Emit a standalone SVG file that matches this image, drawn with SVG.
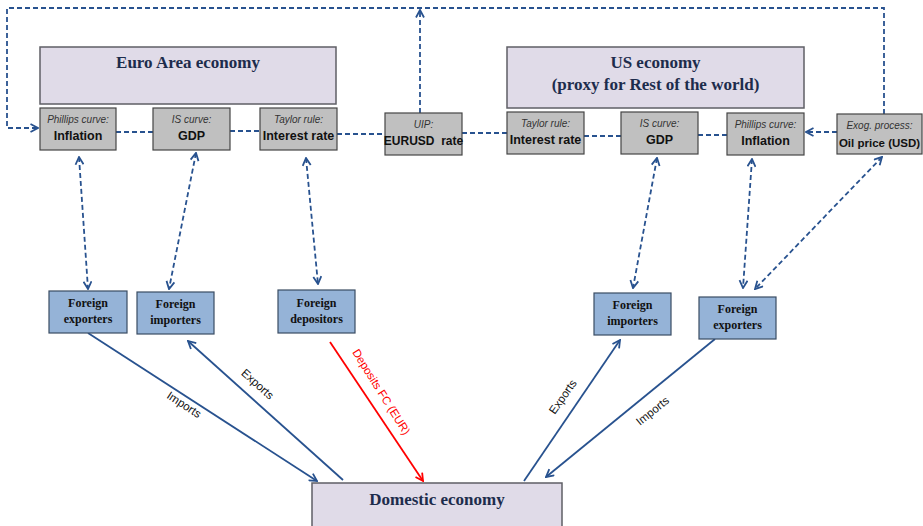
<svg xmlns="http://www.w3.org/2000/svg" width="923" height="526" viewBox="0 0 923 526">
<defs>
<marker id="ah" viewBox="0 0 10 10" refX="9" refY="5" markerWidth="10" markerHeight="10" markerUnits="userSpaceOnUse" orient="auto-start-reverse">
<path d="M1.5,1 L9,5 L1.5,9" fill="none" stroke="#28528f" stroke-width="1.8"/>
</marker>
<marker id="ahr" viewBox="0 0 10 10" refX="9" refY="5" markerWidth="10" markerHeight="10" markerUnits="userSpaceOnUse" orient="auto">
<path d="M1.5,1 L9,5 L1.5,9" fill="none" stroke="#ff0000" stroke-width="1.8"/>
</marker>
</defs>
<style>
.title{fill:#e0dbe8;stroke:#5f5f66;stroke-width:1.5}
.gray{fill:#c0c0c0;stroke:#454545;stroke-width:1.2}
.blue{fill:#95b3d7;stroke:#3a4c63;stroke-width:1.2}
.tt{font-family:"Liberation Serif","Times New Roman",serif;font-weight:bold;font-size:17px;fill:#1d2c4c;text-anchor:middle}
.it{font-family:"Liberation Sans",Arial,sans-serif;font-style:italic;font-size:10px;fill:#333;text-anchor:middle}
.bd{font-family:"Liberation Sans",Arial,sans-serif;font-weight:bold;font-size:12.5px;fill:#111;text-anchor:middle}
.fb{font-family:"Liberation Serif","Times New Roman",serif;font-weight:bold;font-size:12px;fill:#111;text-anchor:middle}
.lb{font-family:"Liberation Sans",Arial,sans-serif;font-size:11.5px;fill:#111;text-anchor:middle}
.dash{fill:none;stroke:#28528f;stroke-width:1.8;stroke-dasharray:5,3}
.solid{fill:none;stroke:#28528f;stroke-width:1.8}
</style>
<rect width="923" height="526" fill="#ffffff"/>

<g id="connectors">
<path class="dash" d="M884,114 V8 H7 V128 H38" marker-end="url(#ah)"/>
<path class="dash" d="M420,113 V10" marker-end="url(#ah)"/>
<path class="dash" d="M116,132 H153"/>
<path class="dash" d="M230,131 H260"/>
<path class="dash" d="M337,134 H385"/>
<path class="dash" d="M462,133 H507"/>
<path class="dash" d="M584,136 H621"/>
<path class="dash" d="M698,135 H727"/>
<path class="dash" d="M837,132 H806" marker-end="url(#ah)"/>
<path class="dash" d="M79,157 L88,289" marker-start="url(#ah)" marker-end="url(#ah)"/>
<path class="dash" d="M196,153 L169,289" marker-start="url(#ah)" marker-end="url(#ah)"/>
<path class="dash" d="M306,158 L318,284" marker-start="url(#ah)" marker-end="url(#ah)"/>
<path class="dash" d="M657,158 L633,288" marker-start="url(#ah)" marker-end="url(#ah)"/>
<path class="dash" d="M752,159 L743,288" marker-start="url(#ah)" marker-end="url(#ah)"/>
<path class="dash" d="M882,157 L755,289" marker-start="url(#ah)" marker-end="url(#ah)"/>
<path class="solid" d="M88,333 L317,481" marker-end="url(#ah)"/>
<path class="solid" d="M343,480 L188,341" marker-end="url(#ah)"/>
<path fill="none" stroke="#ff0000" stroke-width="1.8" d="M330,342 L423,481" marker-end="url(#ahr)"/>
<path class="solid" d="M524,481 L620,340" marker-end="url(#ah)"/>
<path class="solid" d="M715,339 L546,477" marker-end="url(#ah)"/>
<text class="lb" transform="translate(182,408) rotate(33)">Imports</text>
<text class="lb" transform="translate(255,387) rotate(42)">Exports</text>
<text class="lb" style="fill:#ff0000" transform="translate(378,394) rotate(58)">Deposits FC (EUR)</text>
<text class="lb" transform="translate(566,399) rotate(-55)">Exports</text>
<text class="lb" transform="translate(655,414) rotate(-39)">Imports</text>
</g>

<g id="ea-economy">
<rect class="title" x="40" y="47" width="296" height="57"/>
<text class="tt" x="188" y="68">Euro Area economy</text>
</g>
<g id="ea-inflation">
<rect class="gray" x="40" y="108" width="76" height="42"/>
<text class="it" x="78" y="123">Phillips curve:</text>
<text class="bd" x="78" y="140">Inflation</text>
</g>
<g id="ea-gdp">
<rect class="gray" x="153" y="108" width="77" height="42"/>
<text class="it" x="191.5" y="123">IS curve:</text>
<text class="bd" x="191.5" y="140">GDP</text>
</g>
<g id="ea-interest">
<rect class="gray" x="260" y="108" width="77" height="42"/>
<text class="it" x="298.5" y="123">Taylor rule:</text>
<text class="bd" x="298.5" y="140">Interest rate</text>
</g>
<g id="uip">
<rect class="gray" x="385" y="113" width="77" height="42"/>
<text class="it" x="423.5" y="128">UIP:</text>
<text class="bd" x="423.5" y="145" style="font-size:12px" xml:space="preserve">EURUSD  rate</text>
</g>
<g id="us-economy">
<rect class="title" x="507" y="47" width="297" height="61"/>
<text class="tt" x="655.5" y="68">US economy</text>
<text class="tt" x="655.5" y="90">(proxy for Rest of the world)</text>
</g>
<g id="us-interest">
<rect class="gray" x="507" y="112" width="77" height="42"/>
<text class="it" x="545.5" y="127">Taylor rule:</text>
<text class="bd" x="545.5" y="144">Interest rate</text>
</g>
<g id="us-gdp">
<rect class="gray" x="621" y="112" width="77" height="42"/>
<text class="it" x="659.5" y="127">IS curve:</text>
<text class="bd" x="659.5" y="144">GDP</text>
</g>
<g id="us-inflation">
<rect class="gray" x="727" y="113" width="77" height="42"/>
<text class="it" x="765.5" y="128">Phillips curve:</text>
<text class="bd" x="765.5" y="145">Inflation</text>
</g>
<g id="oil-price">
<rect class="gray" x="837" y="114" width="85" height="40"/>
<text class="it" x="879.5" y="129">Exog. process:</text>
<text class="bd" x="879.5" y="147" style="font-size:11.5px">Oil price (USD)</text>
</g>
<g id="ea-foreign-exporters">
<rect class="blue" x="49" y="291" width="78" height="42"/>
<text class="fb" x="88" y="307">Foreign</text>
<text class="fb" x="88" y="323">exporters</text>
</g>
<g id="ea-foreign-importers">
<rect class="blue" x="137" y="292" width="77" height="42"/>
<text class="fb" x="175.5" y="308">Foreign</text>
<text class="fb" x="175.5" y="324">importers</text>
</g>
<g id="foreign-depositors">
<rect class="blue" x="278" y="290" width="77" height="43"/>
<text class="fb" x="316.5" y="307">Foreign</text>
<text class="fb" x="316.5" y="323">depositors</text>
</g>
<g id="us-foreign-importers">
<rect class="blue" x="594" y="293" width="77" height="42"/>
<text class="fb" x="632.5" y="309">Foreign</text>
<text class="fb" x="632.5" y="325">importers</text>
</g>
<g id="us-foreign-exporters">
<rect class="blue" x="699" y="297" width="77" height="42"/>
<text class="fb" x="737.5" y="313">Foreign</text>
<text class="fb" x="737.5" y="329">exporters</text>
</g>
<g id="domestic-economy">
<rect class="title" x="312" y="483" width="250" height="50"/>
<text class="tt" x="437" y="505">Domestic economy</text>
</g>
</svg>
